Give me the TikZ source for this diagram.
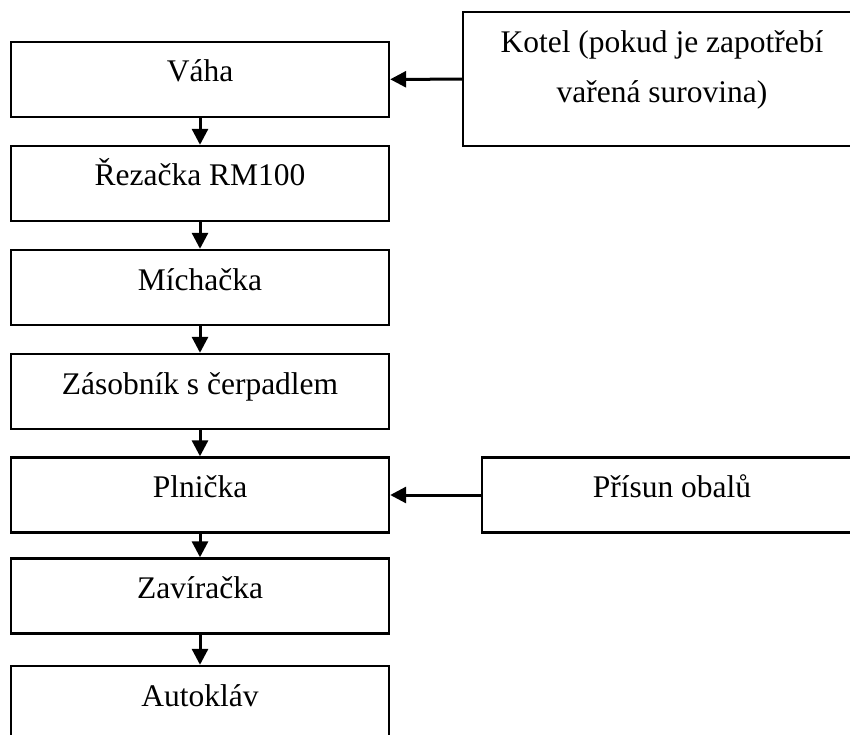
\documentclass[tikz,border=0pt]{standalone}
\usepackage{fontspec}
\setmainfont{Liberation Serif}
\usepackage{tikz}
\usetikzlibrary{arrows.meta}
\tikzset{
  stage/.style={draw=black, line width=2.4pt, inner sep=0pt, minimum width=378pt,
    text height=40pt, text depth=35pt, font=\fontsize{31.5}{50}\selectfont},
  feed/.style={draw=black, line width=2.4pt, inner sep=0pt, align=center,
    font=\fontsize{31.5}{50}\selectfont},
  flow/.style={draw=black, line width=3pt, -{Triangle[width=16pt,length=16pt]}},
}
\begin{document}
\begin{tikzpicture}[x=1pt, y=-1pt]
  \useasboundingbox (0,0) rectangle (850,735);
  \clip (0,0) rectangle (850,735);
  % main line
  \node[stage] (vaha)  at (200,79.5)  {Váha};
  \node[stage] (rez)   at (200,183.5) {Řezačka RM100};
  \node[stage] (mich)  at (200,287.5) {Míchačka};
  \node[stage] (zas)   at (200,391.5) {Zásobník s čerpadlem};
  \node[stage] (pln)   at (200,495)   {Plnička};
  \node[stage] (zav)   at (200,596)   {Zavíračka};
  \node[stage] (auto)  at (200,703.5) {Autokláv};
  % side inputs
  \node[feed, minimum width=398pt, text height=91pt, text depth=43pt] (kotel) at (662,79)
    {Kotel (pokud je zapotřebí\\vařená surovina)};
  \node[stage, minimum width=380pt] (prisun) at (672,495) {Přísun obalů};
  \draw[flow] (vaha) -- (rez);
  \draw[flow] (rez) -- (mich);
  \draw[flow] (mich) -- (zas);
  \draw[flow] (zas) -- (pln);
  \draw[flow] (pln) -- (zav);
  \draw[flow] (zav) -- (auto);
  \draw[flow] (kotel) -- (vaha);
  \draw[flow] (prisun) -- (pln);
\end{tikzpicture}
\end{document}
